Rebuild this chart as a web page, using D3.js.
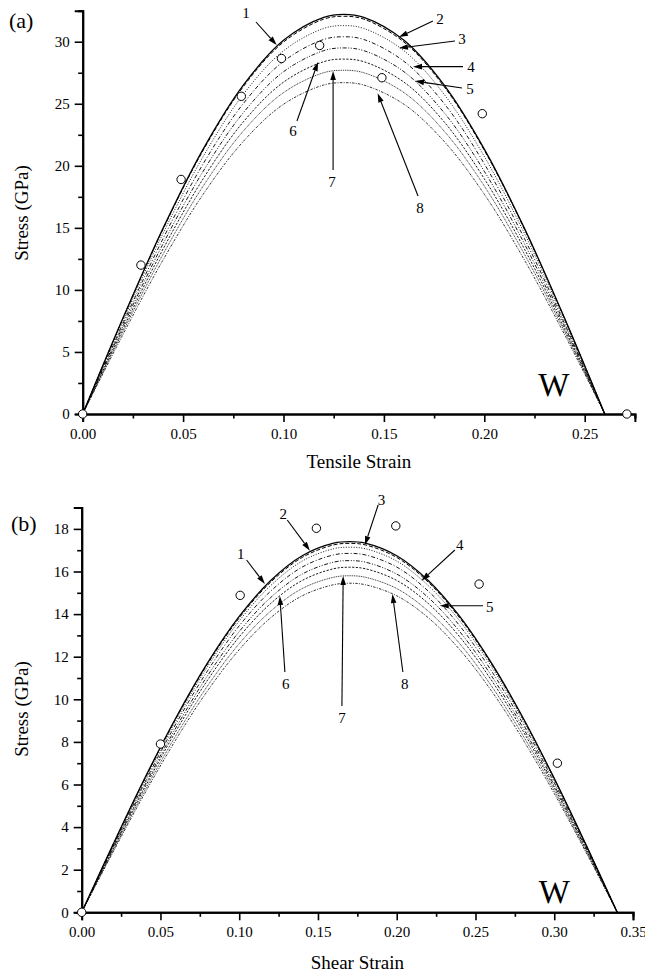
<!DOCTYPE html>
<html>
<head>
<meta charset="utf-8">
<script src="https://cdn.jsdelivr.net/npm/d3@7"></script>
<style>
  html, body { margin: 0; padding: 0; background: #fff; }
  svg text { font-family: "Liberation Serif", "Times New Roman", serif; fill: #000; }
</style>
</head>
<body>
<svg id="chart" width="645" height="977"></svg>
<script>
// ---------------- DATA ----------------
// Panel (a): tensile
const strainA = [0, 0.02, 0.04, 0.06, 0.08, 0.10, 0.12, 0.13, 0.14, 0.16, 0.18, 0.20, 0.22, 0.24, 0.26];
const stressA1 = [0, 7.71, 14.96, 21.35, 26.50, 30.11, 31.96, 32.20, 31.96, 30.11, 26.50, 21.35, 14.96, 7.71, 0];
const stressA2 = [0, 7.67, 14.89, 21.25, 26.38, 29.97, 31.82, 32.05, 31.82, 29.97, 26.38, 21.25, 14.89, 7.67, 0];
const stressA3 = [0, 7.49, 14.55, 20.75, 25.76, 29.27, 31.07, 31.30, 31.07, 29.27, 25.76, 20.75, 14.55, 7.49, 0];
const stressA4 = [0, 7.27, 14.13, 20.16, 25.02, 28.42, 30.18, 30.40, 30.18, 28.42, 25.02, 20.16, 14.13, 7.27, 0];
const stressA5 = [0, 7.06, 13.71, 19.56, 24.28, 27.58, 29.28, 29.50, 29.28, 27.58, 24.28, 19.56, 13.71, 7.06, 0];
const stressA6 = [0, 6.84, 13.29, 18.96, 23.54, 26.74, 28.39, 28.60, 28.39, 26.74, 23.54, 18.96, 13.29, 6.84, 0];
const stressA7 = [0, 6.63, 12.87, 18.37, 22.80, 25.90, 27.50, 27.70, 27.50, 25.90, 22.80, 18.37, 12.87, 6.63, 0];
const stressA8 = [0, 6.39, 12.41, 17.71, 21.97, 24.96, 26.51, 26.70, 26.51, 24.96, 21.97, 17.71, 12.41, 6.39, 0];
const circleStrainA = [0, 0.029, 0.049, 0.079, 0.099, 0.118, 0.149, 0.199, 0.271];
const circleStressA = [0, 12.0, 18.9, 25.6, 28.65, 29.7, 27.1, 24.2, 0];

// Panel (b): shear
const strainB = [0, 0.02, 0.04, 0.06, 0.08, 0.10, 0.12, 0.14, 0.16, 0.17, 0.18, 0.20, 0.22, 0.24, 0.26, 0.28, 0.30, 0.32, 0.34];
const stressB1 = [0, 3.20, 6.29, 9.16, 11.72, 13.89, 15.58, 16.74, 17.33, 17.40, 17.33, 16.74, 15.58, 13.89, 11.72, 9.16, 6.29, 3.20, 0];
const stressB2 = [0, 3.18, 6.26, 9.12, 11.67, 13.82, 15.50, 16.66, 17.25, 17.32, 17.25, 16.66, 15.50, 13.82, 11.67, 9.12, 6.26, 3.18, 0];
const stressB3 = [0, 3.15, 6.19, 9.02, 11.55, 13.68, 15.34, 16.49, 17.07, 17.14, 17.07, 16.49, 15.34, 13.68, 11.55, 9.02, 6.19, 3.15, 0];
const stressB4 = [0, 3.10, 6.09, 8.87, 11.35, 13.45, 15.08, 16.21, 16.78, 16.85, 16.78, 16.21, 15.08, 13.45, 11.35, 8.87, 6.09, 3.10, 0];
const stressB5 = [0, 3.03, 5.96, 8.69, 11.12, 13.18, 14.78, 15.88, 16.44, 16.51, 16.44, 15.88, 14.78, 13.18, 11.12, 8.69, 5.96, 3.03, 0];
const stressB6 = [0, 2.98, 5.85, 8.53, 10.91, 12.93, 14.50, 15.58, 16.13, 16.20, 16.13, 15.58, 14.50, 12.93, 10.91, 8.53, 5.85, 2.98, 0];
const stressB7 = [0, 2.90, 5.71, 8.32, 10.64, 12.61, 14.14, 15.20, 15.73, 15.80, 15.73, 15.20, 14.14, 12.61, 10.64, 8.32, 5.71, 2.90, 0];
const stressB8 = [0, 2.84, 5.58, 8.13, 10.41, 12.33, 13.83, 14.86, 15.38, 15.45, 15.38, 14.86, 13.83, 12.33, 10.41, 8.13, 5.58, 2.84, 0];
const circleStrainB = [0, 0.050, 0.1006, 0.149, 0.1994, 0.2523, 0.302];
const circleStressB = [0, 7.9, 14.88, 18.03, 18.14, 15.41, 7.0];

// Curve labels (series names)
const curveNames = ["1", "2", "3", "4", "5", "6", "7", "8"];

// Annotation arrows in data coordinates: [tipStrain, tipStress, tailStrain, tailStress, labelStrain, labelStress]
const arrowsA = [
  [0.0966, 29.73, 0.0863, 31.59, 0.0813, 32.31],
  [0.1575, 30.38, 0.1744, 31.67, 0.1780, 31.89],
  [0.1575, 29.49, 0.1854, 30.06, 0.1889, 30.27],
  [0.1645, 27.99, 0.1894, 27.99, 0.1934, 27.99],
  [0.1655, 26.83, 0.1889, 26.27, 0.1929, 26.25],
  [0.1172, 28.36, 0.1067, 23.61, 0.1047, 22.80],
  [0.1247, 27.64, 0.1247, 19.66, 0.1242, 18.69],
  [0.1469, 25.84, 0.1670, 17.57, 0.1680, 16.60]
];
const arrowsB = [
  [0.1163, 15.41, 0.1047, 16.54, 0.1009, 16.85],
  [0.1449, 16.98, 0.1305, 18.42, 0.1279, 18.73],
  [0.1798, 17.24, 0.1882, 19.12, 0.1904, 19.36],
  [0.2157, 15.57, 0.2369, 17.01, 0.2400, 17.24],
  [0.2273, 14.39, 0.2548, 14.39, 0.2591, 14.35],
  [0.1258, 14.85, 0.1290, 11.28, 0.1296, 10.72],
  [0.1660, 15.79, 0.1652, 9.69, 0.1652, 9.12],
  [0.1973, 14.94, 0.2039, 11.28, 0.2051, 10.72]
];

// Axis ticks
const xTicksA = [0, 0.05, 0.10, 0.15, 0.20, 0.25];
const xMinorA = [0.025, 0.075, 0.125, 0.175, 0.225, 0.275];
const yTicksA = [0, 5, 10, 15, 20, 25, 30];
const yMinorA = [2.5, 7.5, 12.5, 17.5, 22.5, 27.5, 32.5];
const xTicksB = [0, 0.05, 0.10, 0.15, 0.20, 0.25, 0.30, 0.35];
const xMinorB = [0.025, 0.075, 0.125, 0.175, 0.225, 0.275, 0.325];
const yTicksB = [0, 2, 4, 6, 8, 10, 12, 14, 16, 18];
const yMinorB = [1, 3, 5, 7, 9, 11, 13, 15, 17, 19];

// ---------------- DRAW ----------------
const svg = d3.select("#chart");
const dashes = [null, "4,2", "1,1.6", "4,2,1,2", "4,1.6,1,1.6,1,1.6", "2.2,1.5", "1,0.8", "2.5,1.3,1,1.3"];
const widths = [1.3, 1.0, 0.9, 0.9, 0.9, 0.9, 0.8, 0.8];

function panel(opt) {
  const g = svg.append("g");
  const x = d3.scaleLinear().domain(opt.xDomain).range(opt.xRange);
  const y = d3.scaleLinear().domain(opt.yDomain).range(opt.yRange);

  // curves
  const line = d3.line().x(d => x(d[0])).y(d => y(d[1])).curve(d3.curveCatmullRom.alpha(0.5));
  opt.series.forEach((s, i) => {
    g.append("path")
      .datum(opt.strain.map((e, k) => [e, s[k]]))
      .attr("d", line)
      .attr("fill", "none")
      .attr("stroke", "#000")
      .attr("stroke-width", widths[i])
      .attr("stroke-dasharray", dashes[i]);
  });

  // axes
  const xMinAx = d3.axisBottom(x).tickValues(opt.xMinor).tickSize(4.5).tickFormat("");
  const yMinAx = d3.axisLeft(y).tickValues(opt.yMinor).tickSize(4.5).tickFormat("");
  const xAx = d3.axisBottom(x).tickValues(opt.xTicks).tickSize(8).tickPadding(6).tickFormat(d3.format(".2f"));
  const yAx = d3.axisLeft(y).tickValues(opt.yTicks).tickSize(8).tickPadding(5).tickFormat(d3.format("d"));

  const styleAxis = sel => {
    sel.select(".domain").attr("stroke-width", 2).attr("stroke", "#000");
    sel.selectAll(".tick line").attr("stroke-width", 1.6).attr("stroke", "#000");
    sel.selectAll(".tick text").style("font-family", "'Liberation Serif', 'Times New Roman', serif").style("font-size", "15px").attr("fill", "#000");
  };
  g.append("g").attr("transform", `translate(0,${opt.yRange[0]})`).call(xMinAx).call(styleAxis);
  g.append("g").attr("transform", `translate(${opt.xRange[0]},0)`).call(yMinAx).call(styleAxis);
  g.append("g").attr("transform", `translate(0,${opt.yRange[0]})`).call(xAx).call(styleAxis);
  g.append("g").attr("transform", `translate(${opt.xRange[0]},0)`).call(yAx).call(styleAxis);

  // circles (reference points)
  g.selectAll("circle.pt")
    .data(opt.cx.map((e, k) => [e, opt.cy[k]]))
    .join("circle")
    .attr("class", "pt")
    .attr("cx", d => x(d[0]))
    .attr("cy", d => y(d[1]))
    .attr("r", 4.2)
    .attr("fill", "#fff")
    .attr("stroke", "#000")
    .attr("stroke-width", 1);

  // arrows
  opt.arrows.forEach((a, i) => {
    const tx = x(a[0]), ty = y(a[1]), sx = x(a[2]), sy = y(a[3]);
    const dx = tx - sx, dy = ty - sy, L = Math.hypot(dx, dy);
    const ux = dx / L, uy = dy / L, nx = -uy, ny = ux;
    const hl = 9, hw = 2.8;
    const bx = tx - ux * hl, by = ty - uy * hl;
    g.append("line")
      .attr("x1", sx).attr("y1", sy).attr("x2", bx).attr("y2", by)
      .attr("stroke", "#000").attr("stroke-width", 1.1);
    g.append("path")
      .attr("d", `M${tx},${ty}L${bx + nx * hw},${by + ny * hw}L${bx - nx * hw},${by - ny * hw}Z`)
      .attr("fill", "#000");
    g.append("text")
      .attr("x", x(a[4])).attr("y", y(a[5]))
      .attr("text-anchor", "middle")
      .attr("dy", "0.35em")
      .style("font-size", "15px")
      .text(curveNames[i]);
  });

  // labels
  g.append("text").attr("x", opt.tag[0]).attr("y", opt.tag[1]).attr("dy", "0.35em")
    .style("font-size", "22px").text(opt.tagText);
  g.append("text").attr("x", x(opt.wPos[0])).attr("y", y(opt.wPos[1]))
    .attr("text-anchor", "middle").style("font-size", "33px").text("W");
  g.append("text").attr("x", (opt.xRange[0] + opt.xRange[1]) / 2).attr("y", opt.xTitleY)
    .attr("text-anchor", "middle").attr("dy", "0.35em").style("font-size", "19px").text(opt.xTitle);
  g.append("text").attr("transform", `translate(${opt.yTitle[0]},${opt.yTitle[1]}) rotate(-90)`)
    .attr("text-anchor", "middle").attr("dy", "0.35em").style("font-size", "19px").text("Stress (GPa)");
}

panel({
  xDomain: [0, 0.275], xRange: [82.7, 634.9],
  yDomain: [0, 32.5], yRange: [414, 10.7],
  strain: strainA,
  series: [stressA1, stressA2, stressA3, stressA4, stressA5, stressA6, stressA7, stressA8],
  cx: circleStrainA, cy: circleStressA,
  arrows: arrowsA,
  xTicks: xTicksA, xMinor: xMinorA, yTicks: yTicksA, yMinor: yMinorA,
  tag: [9, 20], tagText: "(a)",
  wPos: [0.2346, 1.45],
  xTitle: "Tensile Strain", xTitleY: 461,
  yTitle: [21, 213]
});

panel({
  xDomain: [0, 0.35], xRange: [81.7, 633],
  yDomain: [0, 19], yRange: [912.3, 507.6],
  strain: strainB,
  series: [stressB1, stressB2, stressB3, stressB4, stressB5, stressB6, stressB7, stressB8],
  cx: circleStrainB, cy: circleStressB,
  arrows: arrowsB,
  xTicks: xTicksB, xMinor: xMinorB, yTicks: yTicksB, yMinor: yMinorB,
  tag: [11, 523], tagText: "(b)",
  wPos: [0.3, 0.42],
  xTitle: "Shear Strain", xTitleY: 962,
  yTitle: [21, 709]
});
</script>
</body>
</html>
